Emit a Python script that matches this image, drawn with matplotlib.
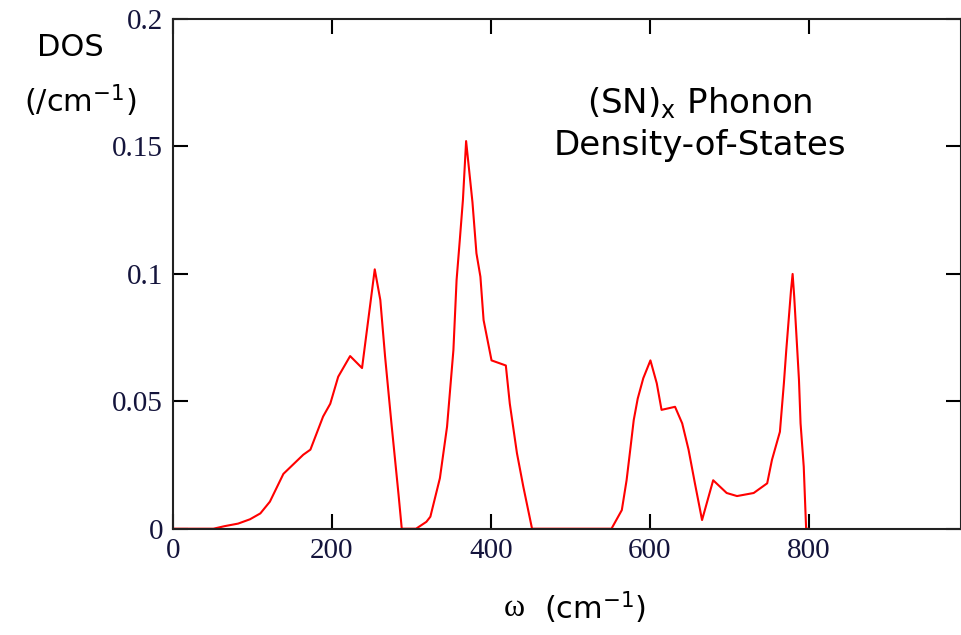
import matplotlib
matplotlib.use("Agg")
import matplotlib.pyplot as plt

# phonon density of states of (SN)x, read at irregular frequency steps
omega = [0, 51, 65, 82, 97, 110, 122, 139, 164, 173, 189, 198, 208, 223, 238,
         254, 261, 267, 275, 284, 288, 306, 319, 324, 336, 345, 353, 357, 361,
         365, 369, 374, 377, 382, 387, 391, 401, 419, 424, 433, 441, 452, 552,
         565, 571, 576, 580, 585, 592, 601, 609, 615, 632, 641, 649, 657, 666,
         680, 697, 710, 731, 748, 754, 764, 769, 772, 775, 778, 780, 782, 785,
         788, 790, 794, 796, 797, 800]
dos = [0, 0, 0.001, 0.002, 0.0037, 0.006, 0.0106, 0.0215, 0.029, 0.031, 0.044,
       0.049, 0.0596, 0.0677, 0.063, 0.1017, 0.0897, 0.0675, 0.0413, 0.0132, 0,
       0, 0.0027, 0.0047, 0.0198, 0.040, 0.070, 0.0975, 0.113, 0.129, 0.152,
       0.137, 0.128, 0.108, 0.0988, 0.0818, 0.066, 0.064, 0.049, 0.0296, 0.0165,
       0, 0, 0.0073, 0.019, 0.032, 0.0426, 0.051, 0.059, 0.066, 0.057, 0.0466,
       0.0478, 0.0413, 0.031, 0.0178, 0.0034, 0.019, 0.014, 0.0128, 0.014,
       0.0178, 0.027, 0.038, 0.057, 0.070, 0.0818, 0.0936, 0.0999, 0.091,
       0.0747, 0.0583, 0.0413, 0.0243, 0.008, 0, 0]

xticks = [0, 200, 400, 600, 800]
yticks = [0, 0.05, 0.1, 0.15, 0.2]
ytick_labels = ["0", "0.05", "0.1", "0.15", "0.2"]

fig = plt.figure(figsize=(9.62, 6.35), dpi=100)
ax = fig.add_axes([0.1798, 0.1674, 0.8192, 0.8032])

ax.plot(omega, dos, color="red", lw=1.5)
ax.set_xlim(0, 992)
ax.set_ylim(0, 0.2)

ax.set_xticks(xticks)
ax.set_yticks(yticks)
ax.set_yticklabels(ytick_labels)
ax.tick_params(direction="in", length=11, width=1.5, top=True, right=True,
               labelsize=21, colors="black", labelcolor="#14143c", pad=7)
for lab in ax.get_xticklabels() + ax.get_yticklabels():
    lab.set_family("Liberation Serif")
for s in ax.spines.values():
    s.set_linewidth(1.5)
    s.set_color("#222222")

fig.text(0.073, 0.925, "DOS", fontsize=22, ha="center", va="center")
fig.text(0.083, 0.842, r"(/cm$^{\mathregular{-1}}$)", fontsize=22, ha="center", va="center")

# x axis label: serif omega followed by the unit
fig.text(0.535, 0.042, "\u03c9", fontsize=23, ha="center", va="center",
         family="Liberation Serif")
fig.text(0.566, 0.043, "(cm$^{\mathregular{-1}}$)", fontsize=22, ha="left", va="center")

ax.text(0.669, 0.835, r"(SN)$_{\mathregular{x}}$ Phonon", transform=ax.transAxes,
        fontsize=24.5, ha="center", va="center")
ax.text(0.669, 0.752, "Density-of-States", transform=ax.transAxes,
        fontsize=24.5, ha="center", va="center")

fig.savefig("out.png", dpi=100)
